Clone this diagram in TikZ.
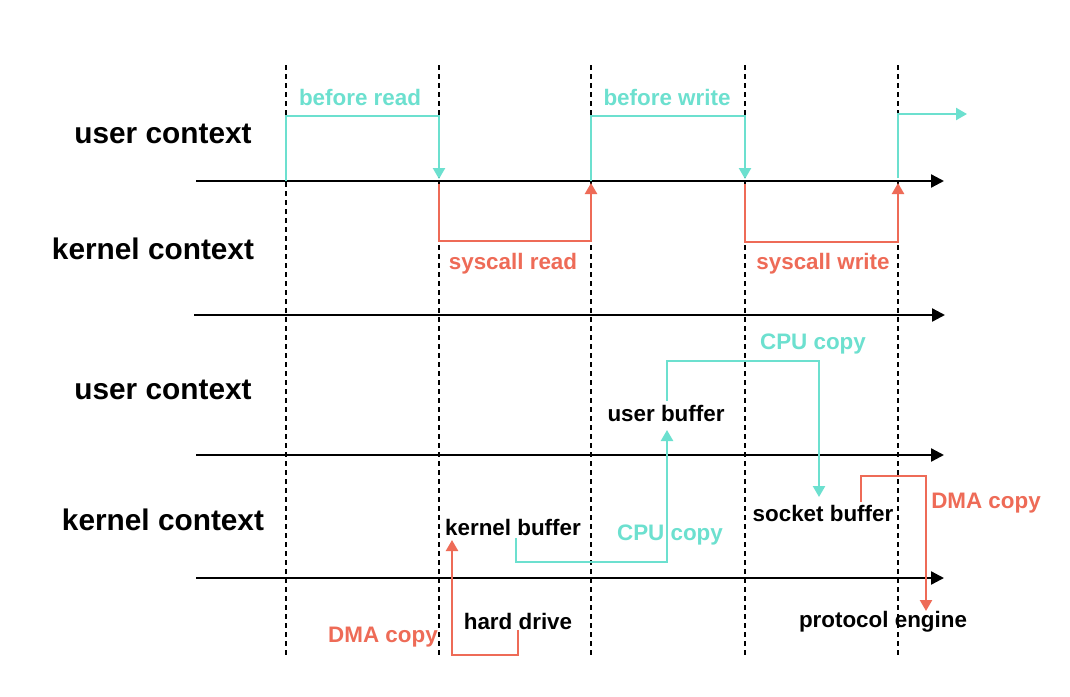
\documentclass[tikz,border=0pt]{standalone}
\usepackage{fontspec}
\setmainfont{Liberation Sans}
\usetikzlibrary{arrows.meta}
\definecolor{tealc}{HTML}{6CE0CF}
\definecolor{coralc}{HTML}{EE6B57}
\begin{document}
\begin{tikzpicture}[x=1pt,y=-1pt,
  big/.style={font=\fontsize{29.8}{32}\selectfont\bfseries, inner sep=0pt},
  lbl/.style={font=\fontsize{22.4}{24}\selectfont\bfseries, inner sep=0pt},
  tlbl/.style={lbl, text=tealc},
  clbl/.style={lbl, text=coralc},
  axisline/.style={line width=2.3pt, -{Triangle[length=13pt,width=13pt]}},
  guide/.style={line width=2pt, dash pattern=on 5pt off 4pt},
  tarr/.style={tealc, line width=2.3pt, -{Triangle[length=11pt,width=12pt]}},
  carr/.style={coralc, line width=2.3pt, -{Triangle[length=11pt,width=12pt]}}]
\useasboundingbox[fill=white] (0,0) rectangle (1070,696);

% guide lines
\foreach \x/\n in {286/g1,439/g2,591/g3,745/g4,898/g5}{
  \coordinate (\n t) at (\x,65);
  \coordinate (\n b) at (\x,656);
  \draw[guide] (\n t) -- (\n b);
}

% axes
\coordinate (a1s) at (196,181); \coordinate (a1e) at (944,181);
\coordinate (a2s) at (194,315); \coordinate (a2e) at (945,315);
\coordinate (a3s) at (196,455); \coordinate (a3e) at (944,455);
\coordinate (a4s) at (196,578); \coordinate (a4e) at (944,578);
\draw[axisline] (a1s) -- (a1e);
\draw[axisline] (a2s) -- (a2e);
\draw[axisline] (a3s) -- (a3e);
\draw[axisline] (a4s) -- (a4e);

% context labels
\node[big] (uc1) at (163,134) {user context};
\node[big] (kc1) at (153,249) {kernel context};
\node[big] (uc2) at (163,390) {user context};
\node[big] (kc2) at (163,520) {kernel context};

% top section labels
\node[tlbl] (br) at (360,97) {before read};
\node[tlbl] (bw) at (667,97) {before write};
\node[clbl] (sr) at (513,264) {syscall read};
\node[clbl] (sw) at (823,264) {syscall write};

% top section paths
\draw[tarr] (286,181) -- (286,116) -- (439,116) -- (439,179);
\draw[carr] (439,184) -- (439,241) -- (591,241) -- (591,183);
\draw[tarr] (591,181) -- (591,116) -- (745,116) -- (745,179);
\draw[carr] (745,184) -- (745,242) -- (898,242) -- (898,183);
\coordinate (out) at (967,114);
\draw[tarr] (898,178) -- (898,114) -- (out);

% bottom section nodes
\node[lbl] (ub) at (666,413) {user buffer};
\node[lbl] (kb) at (513,527) {kernel buffer};
\node[lbl] (sb) at (823,513) {socket buffer};
\node[lbl] (hd) at (518,621) {hard drive};
\node[lbl] (pe) at (883,622) {protocol engine};

\node[tlbl] (cpu1) at (670,535) {CPU copy};
\node[tlbl] (cpu2) at (813,344) {CPU copy};
\node[clbl] (dma1) at (383,637) {DMA copy};
\node[clbl] (dma2) at (986,503) {DMA copy};

% bottom connectors
\coordinate (k1) at (516,538);
\coordinate (k2) at (667,430);
\draw[tarr] (k1) |- (k2 |- 0,562) -- (k2);
\coordinate (u1) at (667,401);
\coordinate (s1) at (819,497);
\draw[tarr] (u1) |- (s1 |- 0,361) -- (s1);
\coordinate (h1) at (518,630);
\coordinate (kt) at (452,540);
\draw[carr] (h1) |- (kt |- 0,655) -- (kt);
\coordinate (s2) at (861,502);
\coordinate (pt) at (926,611);
\draw[carr] (s2) |- (pt |- 0,476) -- (pt);
\end{tikzpicture}
\end{document}
